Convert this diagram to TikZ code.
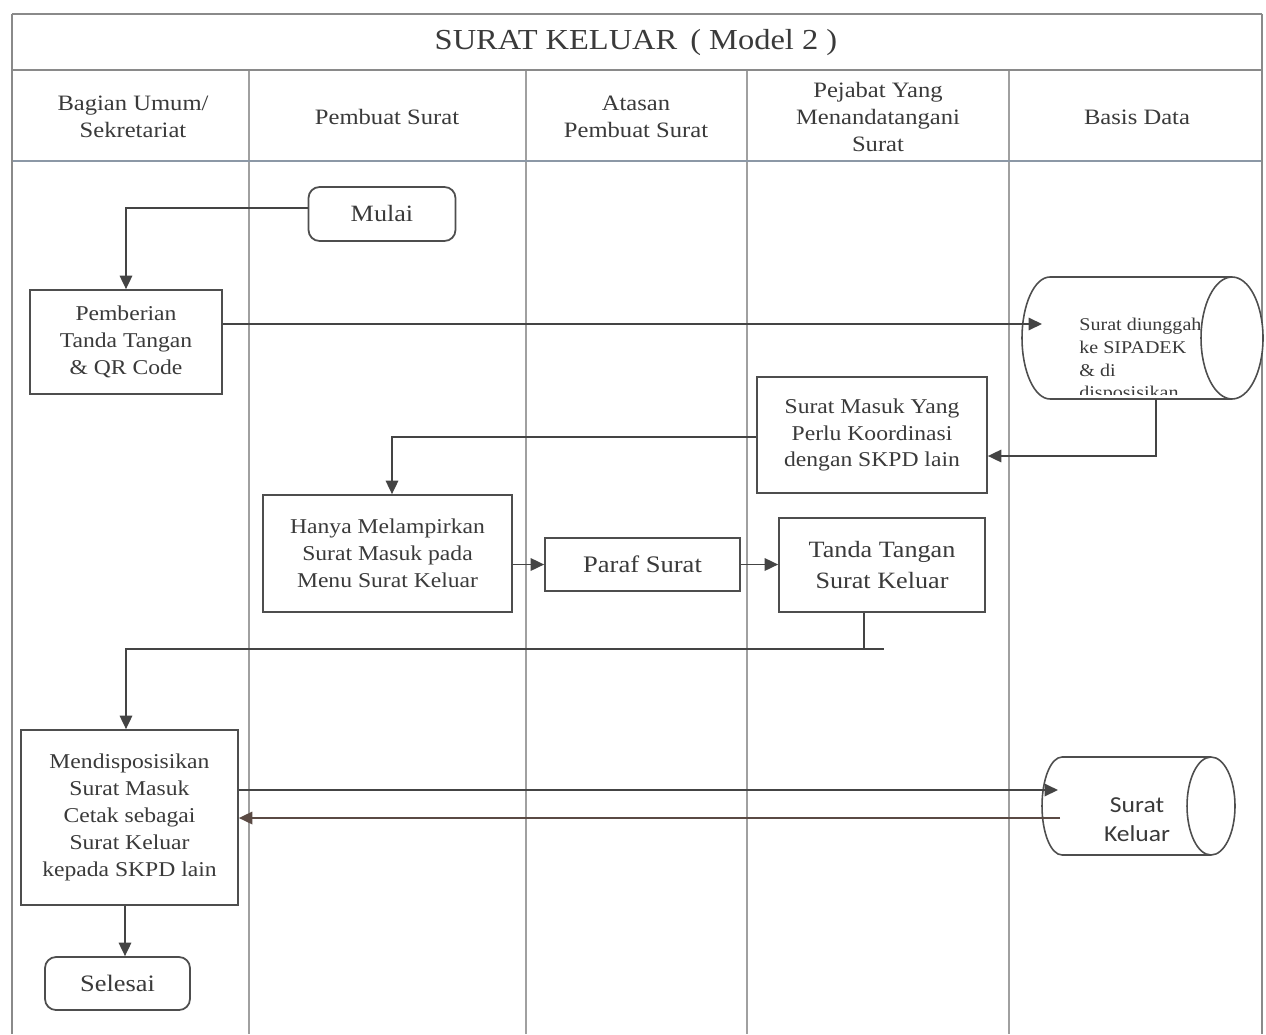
\documentclass[tikz,border=0pt]{standalone}
\usepackage{fontspec}
\setmainfont[FakeStretch=1.12]{Liberation Serif}
\newfontfamily\dbsans[FakeStretch=1.12]{Carlito}
\usetikzlibrary{arrows.meta}

\definecolor{ink}{HTML}{3A3A3A}
\definecolor{boxc}{HTML}{4E4E4E}
\definecolor{flowc}{HTML}{444444}
\definecolor{lanec}{HTML}{A0A0A0}
\definecolor{framec}{HTML}{8A8A8A}
\definecolor{headc}{HTML}{8C98A6}
\definecolor{backc}{HTML}{5A4A44}

\begin{document}
\begin{tikzpicture}[x=0.02cm,y=-0.02cm,
  txt/.style={text=ink, align=center, font=\fontsize{12}{15.3}\selectfont},
  hdr/.style={text=ink, align=center, font=\fontsize{12.5}{15.6}\selectfont},
  box/.style={txt, draw=boxc, line width=1pt, fill=white, inner sep=2pt},
  term/.style={box, rounded corners=0.22cm},
  dbline/.style={draw=boxc, line width=0.9pt},
  flow/.style={draw=flowc, line width=1pt, -{Triangle[length=0.27cm,width=0.25cm]}},
  lane/.style={draw=lanec, line width=0.7pt},
]
\useasboundingbox (0,0) rectangle (1266,1034);
\fill[white] (0,0) rectangle (1266,1034);

% swimlane separators and frame
\foreach \lx in {249,526,747,1009} \draw[lane] (\lx,70) -- (\lx,1034);
\draw[framec, line width=1.3pt] (12,14) -- (1262,14);
\draw[framec, line width=0.9pt] (12,70) -- (1262,70);
\draw[headc, line width=1.6pt] (12,161) -- (1262,161);
\draw[framec, line width=0.9pt] (12,14) -- (12,1034);
\draw[framec, line width=0.9pt] (1262,14) -- (1262,1034);

% title and lane headers
\node[text=ink, font=\fontsize{16.5}{20}\selectfont] (title) at (636,43) {SURAT KELUAR \,( Model 2 )};
\node[hdr] (h1) at (133,117) {Bagian Umum/\\Sekretariat};
\node[hdr] (h2) at (387,117) {Pembuat Surat};
\node[hdr] (h3) at (636,117) {Atasan\\Pembuat Surat};
\node[hdr] (h4) at (878,117) {Pejabat Yang\\Menandatangani\\Surat};
\node[hdr] (h5) at (1137,117) {Basis Data};

% process steps
\node[term, font=\fontsize{13.3}{16}\selectfont, minimum width=2.94cm, minimum height=1.08cm] (mulai) at (382,214) {Mulai};
\node[box, minimum width=3.84cm, minimum height=2.08cm] (beri) at (126,342) {Pemberian\\Tanda Tangan\\\& QR Code};
\node[box, minimum width=4.6cm, minimum height=2.32cm] (smk) at (872,435) {Surat Masuk Yang\\Perlu Koordinasi\\dengan SKPD lain};
\node[box, minimum width=4.98cm, minimum height=2.34cm] (hanya) at (387.5,553.5) {Hanya Melampirkan\\Surat Masuk pada\\Menu Surat Keluar};
\node[box, font=\fontsize{13.5}{16}\selectfont, minimum width=3.9cm, minimum height=1.06cm] (paraf) at (642.5,564.5) {Paraf Surat};
\node[box, font=\fontsize{13.3}{17.5}\selectfont, minimum width=4.12cm, minimum height=1.88cm] (tanda) at (882,565) {Tanda Tangan\\Surat Keluar};
\node[box, minimum width=4.34cm, minimum height=3.5cm] (mend) at (129.5,817.5) {Mendisposisikan\\Surat Masuk\\Cetak sebagai\\Surat Keluar\\kepada SKPD lain};
\node[term, font=\fontsize{13.4}{16}\selectfont, minimum width=2.9cm, minimum height=1.06cm] (selesai) at (117.5,983.5) {Selesai};

% data store: uploaded letters
\node[inner sep=0, minimum width=4.8cm, minimum height=2.44cm] (db1) at (1142,338) {};
\fill[white] (1232,277) -- (1050,277) arc[start angle=90,end angle=270,x radius=0.56cm,y radius=1.22cm] -- (1232,399) -- cycle;
\begin{scope}
  \clip (1022,279) rectangle (1240,394);
  \node[anchor=north west, inner sep=0, align=left, text=ink, font=\fontsize{10.2}{12.9}\selectfont] (db1txt) at (1079,318) {Surat diunggah\\ke SIPADEK\\\& di\\disposisikan};
\end{scope}
\draw[dbline] (1232,277) -- (1050,277) arc[start angle=90,end angle=270,x radius=0.56cm,y radius=1.22cm] -- (1232,399);
\draw[dbline, fill=white] (1232,338) ellipse[x radius=0.62cm, y radius=1.22cm];

% data store: outgoing letters
\node[inner sep=0, minimum width=3.84cm, minimum height=1.96cm] (db2) at (1138,806) {};
\draw[dbline, fill=white] (1211,757) -- (1062,757) arc[start angle=90,end angle=270,x radius=0.4cm,y radius=0.98cm] -- (1211,855);
\draw[dbline, fill=white] (1211,806) ellipse[x radius=0.48cm, y radius=0.98cm];
\node[text=ink, align=center, font=\dbsans\fontsize{13}{16.4}\selectfont] (db2txt) at (1137,820) {Surat\\Keluar};

% connectors
\coordinate (db1in) at (1042,324);
\coordinate (db1out) at (1156,399);
\coordinate (db2in) at (1058,790);
\coordinate (db2out) at (1060,818);
\coordinate (join) at (126,649);

\draw[flow] ([yshift=0.12cm]mulai.west) -| (beri.north);
\draw[flow] ([yshift=0.36cm]beri.east) -- (db1in);
\draw[flow] (db1out) |- ([yshift=-0.42cm]smk.east);
\draw[flow] ([yshift=-0.04cm]smk.west) -| ([xshift=0.09cm]hanya.north);
\draw[flow] (hanya.east |- paraf.west) -- (paraf.west);
\draw[flow] (paraf.east) -- (paraf.east -| tanda.west);
\draw[flow] ([xshift=-0.36cm]tanda.south) |- (join) -- (join |- mend.north);
\draw[flowc, line width=1pt] ([xshift=-0.36cm]tanda.south |- join) -- ++(20,0);
\draw[flow] (mend.east |- db2in) -- (db2in);
\draw[flow, draw=backc] (db2out) -- (db2out -| mend.east);
\draw[flow] ([xshift=-0.09cm]mend.south) -- ([xshift=-0.09cm]mend.south |- selesai.north);
\end{tikzpicture}
\end{document}
